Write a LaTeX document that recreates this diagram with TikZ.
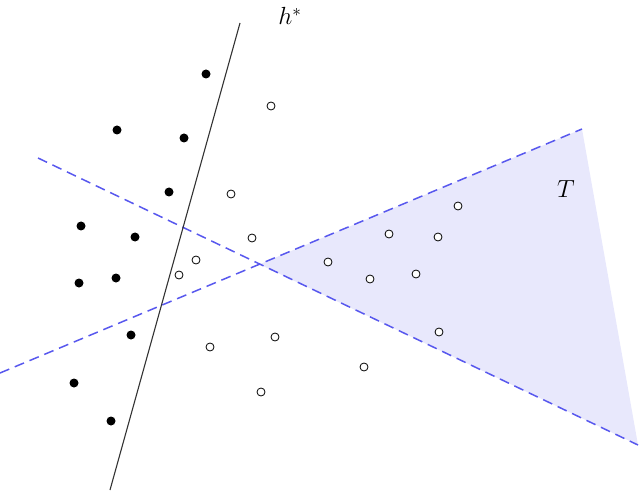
\documentclass[tikz,border=0pt]{standalone}
\begin{document}
\begin{tikzpicture}[x=1bp,y=-1bp,
  fdot/.style={circle,fill=black,inner sep=0pt,minimum size=9bp},
  odot/.style={circle,draw=black,line width=0.8bp,fill=white,inner sep=0pt,minimum size=8bp},
  bdash/.style={draw=dblue,line width=1.5bp,dash pattern=on 10bp off 6bp},
  lbl/.style={font=\fontsize{27}{30}\selectfont,inner sep=0pt}]
\definecolor{dblue}{RGB}{88,88,238}
\definecolor{tfill}{RGB}{232,232,252}
\useasboundingbox (0,0) rectangle (640,493);
% coordinates
\coordinate (A1) at (38,158);
\coordinate (A2) at (638,445);
\coordinate (B1) at (0,373);
\coordinate (B2) at (582,129);
\coordinate (X) at (259.5,264.3);
\coordinate (H1) at (240,23);
\coordinate (H2) at (110,490);
% triangle
\fill[tfill] (X) -- (B2) -- (A2) -- cycle;
% lines
\draw[bdash] (A1) -- (A2);
\draw[bdash] (B1) -- (B2);
\draw[black!80,line width=1.1bp] (H1) -- (H2);
\node[lbl,anchor=base] (hlab) at (290,25) {$h^*$};
\node[lbl,anchor=base] (tlab) at (566,198) {$T$};
% filled dots
\node[fdot] (f1) at (206,74) {};
\node[fdot] (f2) at (117,130) {};
\node[fdot] (f3) at (184,138) {};
\node[fdot] (f4) at (169,192) {};
\node[fdot] (f5) at (81,226) {};
\node[fdot] (f6) at (135,237) {};
\node[fdot] (f7) at (116,278) {};
\node[fdot] (f8) at (79,283) {};
\node[fdot] (f9) at (131,335) {};
\node[fdot] (f10) at (74,383) {};
\node[fdot] (f11) at (111,421) {};
% open dots
\node[odot] (o1) at (271,106) {};
\node[odot] (o2) at (231,194) {};
\node[odot] (o3) at (252,238) {};
\node[odot] (o4) at (196,260) {};
\node[odot] (o5) at (179,275) {};
\node[odot] (o6) at (328,262) {};
\node[odot] (o7) at (389,234) {};
\node[odot] (o8) at (438,237) {};
\node[odot] (o9) at (458,206) {};
\node[odot] (o10) at (370,279) {};
\node[odot] (o11) at (416,274) {};
\node[odot] (o12) at (275,337) {};
\node[odot] (o13) at (210,347) {};
\node[odot] (o14) at (439,332) {};
\node[odot] (o15) at (364,367) {};
\node[odot] (o16) at (261,392) {};
\end{tikzpicture}
\end{document}
